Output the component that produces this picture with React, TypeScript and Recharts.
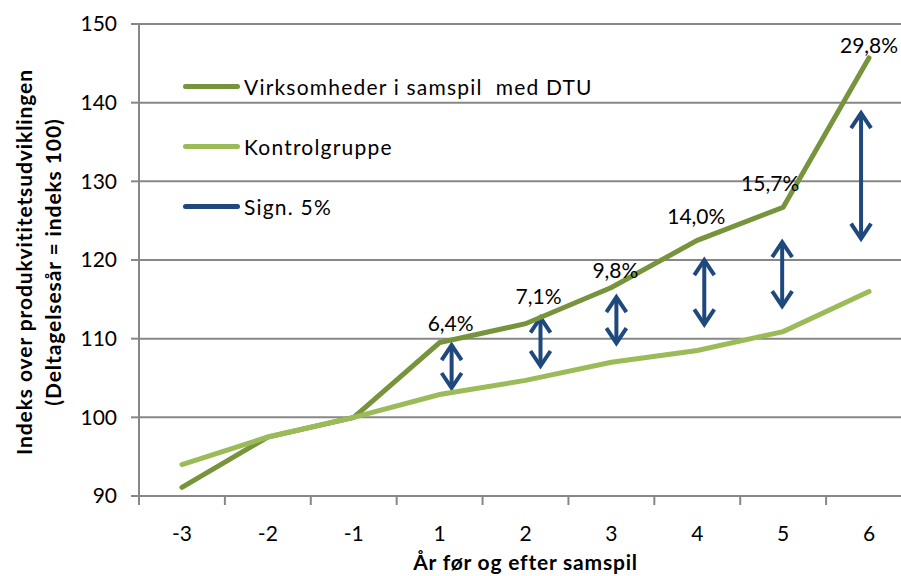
import {
  LineChart,
  Line,
  XAxis,
  YAxis,
  CartesianGrid,
  Legend,
  LabelList,
  ReferenceLine,
} from 'recharts';

const years = ['-3', '-2', '-1', '1', '2', '3', '4', '5', '6'];
const firms = [91.1, 97.5, 100, 109.5, 111.9, 116.5, 122.5, 126.7, 145.7];
const control = [94.0, 97.5, 100, 102.9, 104.7, 107.0, 108.5, 110.9, 116.0];
const gapLabels = ['', '', '', '6,4%', '7,1%', '9,8%', '14,0%', '15,7%', '29,8%'];

const sigYears = ['1', '2', '3', '4', '5', '6'];
const sigTop = [109.3, 112.8, 115.4, 120.1, 122.4, 138.8];
const sigBottom = [103.6, 106.4, 109.3, 111.7, 114.0, 122.6];

const yTicks = [90, 100, 110, 120, 130, 140, 150];

// small hand nudges so arrows / labels sit like in the original
const arrowNudge = [12, 15, 5, 7, -1, -8];
const labelNudge: [number, number][] = [
  [0, 0], [0, 0], [0, 0],
  [11, -20], [13, -28], [4, -18], [-1, -25], [-13, -25], [0, -13],
];

const DARK = '#77933c';
const LIGHT = '#9bbb59';
const NAVY = '#1f497d';
const GRID = '#878787';
const FONT = 'Lato, "Open Sans", sans-serif';

const W = 930;
const H = 576;
const MARGIN = { top: 24, right: 18, bottom: 0, left: 0 };
const Y_W = 139;
const BAND = (W - MARGIN.left - MARGIN.right - Y_W) / years.length;

const rows = years.map((year, i) => ({
  year,
  firms: firms[i],
  control: control[i],
  pct: gapLabels[i],
}));

const legendItems = [
  { name: 'Virksomheder i samspil  med DTU', color: DARK },
  { name: 'Kontrolgruppe', color: LIGHT },
  { name: 'Sign. 5%', color: NAVY },
];

function XTick({ x, y, payload, index }: any) {
  return (
    <g>
      <line x1={x - BAND / 2} x2={x - BAND / 2} y1={y} y2={y + 9} stroke={GRID} strokeWidth={2} />
      {index === years.length - 1 && (
        <line x1={x + BAND / 2} x2={x + BAND / 2} y1={y} y2={y + 9} stroke={GRID} strokeWidth={2} />
      )}
      <text x={x} y={y + 45} textAnchor="middle" fontSize={21} fontFamily={FONT} fill="#000">
        {payload.value}
      </text>
    </g>
  );
}

function makeArrow(shift: number) {
  return (p: any) => {
    const x = p.x1 + shift;
    const top = Math.min(p.y1, p.y2);
    const bot = Math.max(p.y1, p.y2);
    const hw = 10;
    const hl = 16;
    return (
      <g stroke={NAVY} strokeWidth={4} fill="none" strokeLinejoin="miter">
        <line x1={x} x2={x} y1={top + 1} y2={bot - 1} />
        <polyline points={`${x - hw},${top + hl} ${x},${top + 1} ${x + hw},${top + hl}`} />
        <polyline points={`${x - hw},${bot - hl} ${x},${bot - 1} ${x + hw},${bot - hl}`} />
      </g>
    );
  };
}

function PctLabel({ x, y, value, index }: any) {
  if (!value) return null;
  const [dx, dy] = labelNudge[index];
  return (
    <text
      x={x + dx}
      y={y + dy}
      textAnchor="middle"
      dominantBaseline="central"
      fontSize={21}
      fontFamily={FONT}
      fill="#000"
    >
      {value}
    </text>
  );
}

function YTitle({ viewBox }: any) {
  const cy = viewBox.y + viewBox.height / 2 + 2;
  return (
    <g fontFamily={FONT} fontWeight="bold" fontSize={21} letterSpacing={0.9} fill="#000" textAnchor="middle">
      <text x={23} y={cy} transform={`rotate(-90 23 ${cy})`} dominantBaseline="central">
        Indeks over produkvititetsudviklingen
      </text>
      <text x={52} y={cy} transform={`rotate(-90 52 ${cy})`} dominantBaseline="central">
        (Deltagelsesår = indeks 100)
      </text>
    </g>
  );
}

function LegendBox() {
  return (
    <div style={{ fontFamily: FONT, fontSize: 21, letterSpacing: 1.2, color: '#000' }}>
      {legendItems.map((it) => (
        <div key={it.name} style={{ display: 'flex', alignItems: 'center', height: 60 }}>
          <span
            style={{
              display: 'inline-block',
              width: 57,
              height: 5,
              borderRadius: 3,
              background: it.color,
              marginRight: 4,
            }}
          />
          <span style={{ whiteSpace: 'pre' }}>{it.name}</span>
        </div>
      ))}
    </div>
  );
}

export default function App() {
  return (
    <div
      style={{
        position: 'fixed',
        left: 0,
        top: 0,
        width: 901,
        height: 576,
        overflow: 'hidden',
        background: '#fff',
      }}
    >
      <LineChart width={W} height={H} data={rows} margin={MARGIN}>
        <CartesianGrid horizontal vertical={false} stroke={GRID} strokeWidth={2} />
        <XAxis
          dataKey="year"
          scale="band"
          height={80}
          axisLine={{ stroke: GRID, strokeWidth: 2 }}
          tickLine={false}
          tickSize={0}
          tickMargin={0}
          interval={0}
          tick={<XTick />}
          label={{
            value: 'År før og efter samspil',
            position: 'insideBottom',
            offset: 6,
            fontSize: 21,
            fontWeight: 'bold',
            letterSpacing: 0.8,
            fontFamily: FONT,
            fill: '#000',
          }}
        />
        <YAxis
          width={Y_W}
          domain={[90, 150]}
          ticks={yTicks}
          axisLine={{ stroke: GRID, strokeWidth: 2 }}
          tickLine={{ stroke: GRID, strokeWidth: 2 }}
          tickSize={8}
          tickMargin={14}
          tick={{ fill: '#000', fontSize: 21, fontFamily: FONT }}
          label={<YTitle />}
        />
        <Legend
          layout="horizontal"
          verticalAlign="middle"
          align="center"
          content={<LegendBox />}
          wrapperStyle={{ left: 183, top: 56, width: 'auto' }}
        />
        {sigYears.map((yr, i) => (
          <ReferenceLine
            key={yr}
            segment={[
              { x: yr, y: sigTop[i] },
              { x: yr, y: sigBottom[i] },
            ]}
            shape={makeArrow(arrowNudge[i])}
          />
        ))}
        <Line
          dataKey="firms"
          name="Virksomheder i samspil med DTU"
          stroke={DARK}
          strokeWidth={5}
          strokeLinecap="round"
          dot={false}
          activeDot={false}
          isAnimationActive={false}
        >
          <LabelList dataKey="pct" content={<PctLabel />} />
        </Line>
        <Line
          dataKey="control"
          name="Kontrolgruppe"
          stroke={LIGHT}
          strokeWidth={5}
          strokeLinecap="round"
          dot={false}
          activeDot={false}
          isAnimationActive={false}
        />
      </LineChart>
    </div>
  );
}
